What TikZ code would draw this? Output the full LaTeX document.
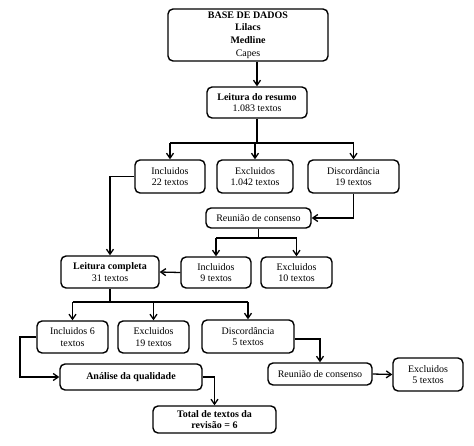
\documentclass[tikz,border=0pt]{standalone}
\usepackage{fontspec}
\setmainfont{Liberation Serif}
\usetikzlibrary{arrows.meta}
\begin{document}
\begin{tikzpicture}[x=1pt,y=-1pt,
  box/.style={draw, line width=1.4pt, rounded corners=5pt, align=center, inner sep=0pt,
    font=\fontsize{10}{11.5}\selectfont},
  con/.style={line width=1.3pt},
  arr/.style={con, -{Straight Barb[length=5pt,width=7pt,line width=1.3pt]}}]
\useasboundingbox (0,0) rectangle (474,445);
\fill[white] (0,0) rectangle (474,445);
\newcommand{\bx}[7]{\node[box, minimum width=#4pt, minimum height=#5pt, #6] (#1) at (#2,#3) {#7};}
\bx{base}{248}{35}{160}{52}{font=\fontsize{10}{12.5}\selectfont}{\textbf{BASE DE DADOS}\\\textbf{Lilacs}\\\textbf{Medline}\\Capes}
\bx{res}{257}{102.5}{100}{31}{}{\textbf{Leitura do resumo}\\1.083 textos}
\bx{inc1}{170}{176.5}{70}{33}{}{Incluidos\\22 textos}
\bx{exc1}{255}{176.5}{76}{33}{}{Excluidos\\1.042 textos}
\bx{dis1}{353.5}{176.5}{91}{33}{}{Discordância\\19 textos}
\bx{reu1}{258.5}{218}{105}{20}{}{Reunião de consenso}
\bx{lc}{110}{272}{98}{32}{}{\textbf{Leitura completa}\\31 textos}
\bx{inc2}{216}{272.5}{70}{31}{}{Incluidos\\9 textos}
\bx{exc2}{296.5}{272.5}{71}{31}{}{Excluidos\\10 textos}
\bx{inc3}{72.5}{337}{71}{32}{}{Incluidos 6\\textos}
\bx{exc3}{153.5}{337}{71}{32}{}{Excluidos\\19 textos}
\bx{dis3}{248}{336.5}{92}{33}{}{Discordância\\5 textos}
\bx{ana}{131}{377}{142}{26}{}{\textbf{Análise da qualidade}}
\bx{tot}{214.5}{419.5}{123}{27}{}{\textbf{Total de textos da}\\\textbf{revisão = 6}}
\bx{reu2}{320}{374}{104}{22}{}{Reunião de consenso}
\bx{exc4}{428}{374.5}{70}{33}{}{Excluidos\\5 textos}
% connectors
\draw[arr] (res.north |- base.south) -- (res.north);
\coordinate (bus1) at (257,143);
\draw[con] (res.south) -- (bus1);
\draw[con] (inc1.north |- bus1) -- (dis1.north |- bus1);
\foreach \n in {inc1,exc1,dis1} \draw[arr] (\n.north |- bus1) -- (\n.north);
\draw[arr] (inc1.west) -| (lc.north);
\draw[arr] (dis1.south) |- (reu1.east);
\coordinate (bus2) at (258.5,238);
\draw[con] (reu1.south) -- (bus2);
\draw[con] (inc2.north |- bus2) -- (exc2.north |- bus2);
\foreach \n in {inc2,exc2} \draw[arr] (\n.north |- bus2) -- (\n.north);
\draw[arr] (inc2.west) -- (lc.east);
\coordinate (bus3) at (110,302);
\draw[con] (lc.south) -- (bus3);
\draw[con] (inc3.north |- bus3) -- (dis3.north |- bus3);
\foreach \n in {inc3,exc3,dis3} \draw[arr] (\n.north |- bus3) -- (\n.north);
\coordinate (k1) at (20,337);
\draw[arr] (inc3.west) -- (k1) |- (ana.west);
\draw[arr] (ana.east) -| (tot.north);
\draw[arr] ([yshift=-2.5pt]dis3.east) -| (reu2.north);
\draw[arr] (reu2.east) -- (exc4.west);
\end{tikzpicture}
\end{document}
